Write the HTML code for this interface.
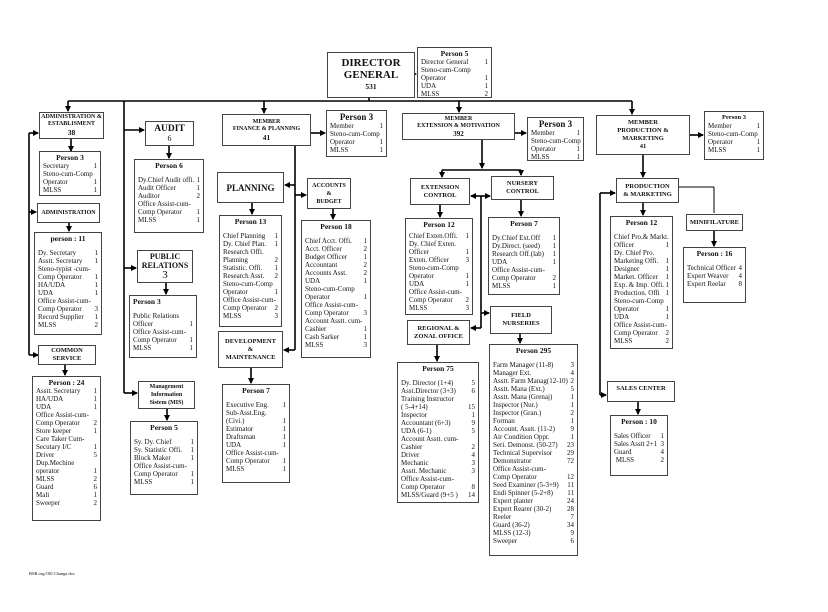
<!DOCTYPE html>
<html><head><meta charset="utf-8"><style>
body{margin:0;width:828px;height:612px;background:#fff;position:relative;overflow:hidden;font-family:"Liberation Serif",serif;color:#111}
.b{position:absolute;border:1.5px solid #444;box-sizing:border-box;background:#fff}
.h{text-align:center;font-weight:bold;font-size:7px;line-height:8px;display:flex;flex-direction:column;justify-content:center}
.t{font-size:7px;line-height:8px;padding:1px 3px}
.t .c{text-align:center;font-weight:bold;font-size:7.5px;line-height:9px}
.t p{margin:0;white-space:nowrap}
.t i{float:right;font-style:normal}
.t .s{height:6px}
svg{position:absolute;left:0;top:0}
</style></head><body>
<svg width="828" height="612">
<defs><marker id="a" markerWidth="6" markerHeight="6" refX="5" refY="3" orient="auto" markerUnits="userSpaceOnUse"><path d="M0,0L6,3L0,6z" fill="#000"/></marker></defs>
<g stroke="#000" stroke-width="1.6" fill="none">
<line x1="68" y1="101" x2="632" y2="101"/>
<line x1="369" y1="97" x2="369" y2="101"/>
<line x1="415" y1="74" x2="416" y2="74" marker-end="url(#a)"/>
<line x1="68" y1="101" x2="68" y2="111" marker-end="url(#a)"/>
<line x1="264" y1="101" x2="264" y2="113" marker-end="url(#a)"/>
<line x1="459" y1="101" x2="459" y2="112" marker-end="url(#a)"/>
<line x1="632" y1="101" x2="632" y2="114" marker-end="url(#a)"/>
<line x1="71" y1="139" x2="71" y2="151" marker-end="url(#a)"/>
<line x1="69" y1="223" x2="69" y2="231" marker-end="url(#a)"/>
<line x1="29" y1="133" x2="29" y2="355"/>
<line x1="29" y1="133" x2="38" y2="133" marker-end="url(#a)"/>
<line x1="29" y1="212" x2="36" y2="212" marker-end="url(#a)"/>
<line x1="29" y1="355" x2="38" y2="355" marker-end="url(#a)"/>
<line x1="65" y1="365" x2="65" y2="375" marker-end="url(#a)"/>
<line x1="124" y1="101" x2="124" y2="393"/>
<line x1="124" y1="130" x2="144" y2="130" marker-end="url(#a)"/>
<line x1="124" y1="268" x2="136" y2="268" marker-end="url(#a)"/>
<line x1="124" y1="393" x2="137" y2="393" marker-end="url(#a)"/>
<line x1="169" y1="146" x2="169" y2="158" marker-end="url(#a)"/>
<line x1="166" y1="283" x2="166" y2="294" marker-end="url(#a)"/>
<line x1="167" y1="409" x2="167" y2="420" marker-end="url(#a)"/>
<line x1="311" y1="133" x2="325" y2="133" marker-end="url(#a)"/>
<line x1="295" y1="146" x2="295" y2="350"/>
<line x1="295" y1="185" x2="285" y2="185" marker-end="url(#a)"/>
<line x1="295" y1="195" x2="306" y2="195" marker-end="url(#a)"/>
<line x1="295" y1="350" x2="284" y2="350" marker-end="url(#a)"/>
<line x1="252" y1="203" x2="252" y2="214" marker-end="url(#a)"/>
<line x1="333" y1="209" x2="333" y2="219" marker-end="url(#a)"/>
<line x1="251" y1="368" x2="251" y2="383" marker-end="url(#a)"/>
<line x1="515" y1="133" x2="526" y2="133" marker-end="url(#a)"/>
<line x1="482" y1="140" x2="482" y2="168" marker-end="url(#a)"/>
<line x1="442" y1="170" x2="521" y2="170"/>
<line x1="442" y1="170" x2="442" y2="177" marker-end="url(#a)"/>
<line x1="521" y1="170" x2="521" y2="175" marker-end="url(#a)"/>
<line x1="481" y1="196" x2="481" y2="328"/>
<line x1="481" y1="196" x2="471" y2="196" marker-end="url(#a)"/>
<line x1="481" y1="196" x2="490" y2="196" marker-end="url(#a)"/>
<line x1="481" y1="313" x2="489" y2="313" marker-end="url(#a)"/>
<line x1="481" y1="328" x2="471" y2="328" marker-end="url(#a)"/>
<line x1="440" y1="205" x2="440" y2="217" marker-end="url(#a)"/>
<line x1="521" y1="200" x2="521" y2="216" marker-end="url(#a)"/>
<line x1="520" y1="334" x2="520" y2="343" marker-end="url(#a)"/>
<line x1="437" y1="345" x2="437" y2="361" marker-end="url(#a)"/>
<line x1="690" y1="135" x2="703" y2="135" marker-end="url(#a)"/>
<line x1="643" y1="155" x2="643" y2="177" marker-end="url(#a)"/>
<line x1="643" y1="203" x2="643" y2="215" marker-end="url(#a)"/>
<line x1="679" y1="187" x2="714" y2="187" stroke-width="1"/>
<line x1="714" y1="187" x2="714" y2="213" stroke-width="1"/>
<line x1="714" y1="231" x2="714" y2="246" marker-end="url(#a)"/>
<line x1="600" y1="193" x2="600" y2="395"/>
<line x1="600" y1="193" x2="615" y2="193" marker-end="url(#a)"/>
<line x1="600" y1="395" x2="606" y2="395" marker-end="url(#a)"/>
<line x1="638" y1="402" x2="638" y2="414" marker-end="url(#a)"/>
</g></svg>

<div class="b h" style="left:327px;top:52px;width:88px;height:46px;font-size:11px;line-height:12px">DIRECTOR<br>GENERAL<span style="font-size:7.5px">531</span></div>
<div class="b t" style="left:417px;top:47px;width:75px;height:51px"><div class="c">Person 5</div><p>Director General<i>1</i></p><p>Steno-cum-Comp</p><p>Operator<i>1</i></p><p>UDA<i>1</i></p><p>MLSS<i>2</i></p></div>

<div class="b h" style="left:39px;top:112px;width:65px;height:27px;font-size:6px;line-height:7px">ADMINISTRATION &amp;<br>ESTABLISMENT<br><span style="font-size:7.5px;line-height:9px">38</span></div>
<div class="b t" style="left:39px;top:151px;width:62px;height:45px"><div class="c">Person 3</div><p>Secretary<i>1</i></p><p>Steno-cum-Comp</p><p>Operator<i>1</i></p><p>MLSS<i>1</i></p></div>
<div class="b h" style="left:37px;top:203px;width:63px;height:20px;font-size:6px">ADMINISTRATION</div>
<div class="b t" style="left:34px;top:232px;width:68px;height:103px"><div class="c">person : 11</div><div class="s"></div><p>Dy. Secretary<i>1</i></p><p>Asstt. Secretary<i>1</i></p><p>Steno-typist -cum-</p><p>Comp Operator<i>1</i></p><p>HA/UDA<i>1</i></p><p>UDA<i>1</i></p><p>Office Assist-cum-</p><p>Comp Operator<i>3</i></p><p>Record Supplier<i>1</i></p><p>MLSS<i>2</i></p></div>
<div class="b h" style="left:38px;top:345px;width:58px;height:20px;font-size:6.5px">COMMON<br>SERVICE</div>
<div class="b t" style="left:32px;top:376px;width:69px;height:145px"><div class="c">Person : 24</div><p>Asstt. Secretary<i>1</i></p><p>HA/UDA<i>1</i></p><p>UDA<i>1</i></p><p>Office Assist-cum-</p><p>Comp Operator<i>2</i></p><p>Store keeper<i>1</i></p><p>Care Taker Cum-</p><p>Secutary I/C<i>1</i></p><p>Driver<i>5</i></p><p>Dup.Mechine</p><p>operator<i>1</i></p><p>MLSS<i>2</i></p><p>Guard<i>6</i></p><p>Mali<i>1</i></p><p>Sweeper<i>2</i></p></div>

<div class="b h" style="left:145px;top:121px;width:49px;height:25px;font-size:9.5px;line-height:10px">AUDIT<span style="font-weight:normal;font-size:8px">6</span></div>
<div class="b t" style="left:134px;top:159px;width:70px;height:74px"><div class="c">Person 6</div><div class="s"></div><p>Dy.Chief Audit offi.<i>1</i></p><p>Audit Officer<i>1</i></p><p>Auditor<i>2</i></p><p>Office Assist-cum-</p><p>Comp Operator<i>1</i></p><p>MLSS<i>1</i></p></div>
<div class="b h" style="left:137px;top:250px;width:56px;height:33px;font-size:8px;line-height:9px">PUBLIC<br>RELATIONS<span style="font-weight:normal;font-size:11px;line-height:11px">3</span></div>
<div class="b t" style="left:129px;top:295px;width:68px;height:63px"><div class="c" style="text-align:left">Person 3</div><div class="s"></div><p>Public Relations</p><p>Officer<i>1</i></p><p>Office Assist-cum-</p><p>Comp Operator<i>1</i></p><p>MLSS<i>1</i></p></div>
<div class="b h" style="left:138px;top:381px;width:57px;height:28px;font-size:6px;line-height:8px">Management<br>Information<br>Sistem (MIS)</div>
<div class="b t" style="left:130px;top:421px;width:68px;height:74px"><div class="c">Person 5</div><div class="s"></div><p>Sy. Dy. Chief<i>1</i></p><p>Sy. Statistic Offi.<i>1</i></p><p>Block Maker<i>1</i></p><p>Office Assist-cum-</p><p>Comp Operator<i>1</i></p><p>MLSS<i>1</i></p></div>

<div class="b h" style="left:222px;top:114px;width:89px;height:32px;font-size:6px;line-height:7px">MEMBER<br>FINANCE &amp; PLANNING<br><span style="font-size:7.5px;line-height:9px">41</span></div>
<div class="b t" style="left:326px;top:110px;width:61px;height:47px"><div class="c" style="font-size:9px;line-height:10px">Person 3</div><p>Member<i>1</i></p><p>Steno-cum-Comp</p><p>Operator<i>1</i></p><p>MLSS<i>1</i></p></div>
<div class="b h" style="left:217px;top:172px;width:67px;height:31px;font-size:9px">PLANNING</div>
<div class="b h" style="left:307px;top:178px;width:44px;height:31px;font-size:6px">ACCOUNTS<br>&amp;<br>BUDGET</div>
<div class="b t" style="left:219px;top:215px;width:63px;height:112px"><div class="c">Person 13</div><div class="s"></div><p>Chief Planning<i>1</i></p><p>Dy. Chief Plan.<i>1</i></p><p>Research Offi.</p><p>Planning<i>2</i></p><p>Statistic. Offi.<i>1</i></p><p>Research Asst.<i>2</i></p><p>Steno-cum-Comp</p><p>Operator<i>1</i></p><p>Office Assist-cum-</p><p>Comp Operator<i>2</i></p><p>MLSS<i>3</i></p></div>
<div class="b t" style="left:301px;top:220px;width:70px;height:138px"><div class="c">Person 18</div><div class="s"></div><p>Chief Acct. Offi.<i>1</i></p><p>Acct. Officer<i>2</i></p><p>Budget Officer<i>1</i></p><p>Accountant<i>2</i></p><p>Accounts Asst.<i>2</i></p><p>UDA<i>1</i></p><p>Steno-cum-Comp</p><p>Operator<i>1</i></p><p>Office Assist-cum-</p><p>Comp Operator<i>3</i></p><p>Account Asstt. cum-</p><p>Cashier<i>1</i></p><p>Cash Sarker<i>1</i></p><p>MLSS<i>3</i></p></div>
<div class="b h" style="left:218px;top:331px;width:65px;height:37px;font-size:6.5px">DEVELOPMENT<br>&amp;<br>MAINTENANCE</div>
<div class="b t" style="left:222px;top:384px;width:68px;height:99px"><div class="c">Person 7</div><div class="s"></div><p>Executive Eng.<i>1</i></p><p>Sub-Asst.Eng.</p><p>(Civi.)<i>1</i></p><p>Estimator<i>1</i></p><p>Draftsman<i>1</i></p><p>UDA<i>1</i></p><p>Office Assist-cum-</p><p>Comp Operator<i>1</i></p><p>MLSS<i>1</i></p></div>

<div class="b h" style="left:402px;top:113px;width:113px;height:27px;font-size:6px;line-height:7px">MEMBER<br>EXTENSION &amp; MOTIVATION<br><span style="font-size:7px;line-height:8px">392</span></div>
<div class="b t" style="left:527px;top:117px;width:57px;height:44px"><div class="c" style="font-size:9px;line-height:10px">Person 3</div><p>Member<i>1</i></p><p>Steno-cum-Comp</p><p>Operator<i>1</i></p><p>MLSS<i>1</i></p></div>
<div class="b h" style="left:410px;top:178px;width:60px;height:27px;font-size:6.5px">EXTENSION<br>CONTROL</div>
<div class="b h" style="left:491px;top:176px;width:63px;height:24px;font-size:6.5px">NURSERY<br>CONTROL</div>
<div class="b t" style="left:405px;top:218px;width:68px;height:97px"><div class="c">Person 12</div><div class="s" style="height:3px"></div><p>Chief Exten.Offi.<i>1</i></p><p>Dy. Chief Exten.</p><p>Officer<i>1</i></p><p>Exten. Officer<i>3</i></p><p>Steno-cum-Comp</p><p>Operator<i>1</i></p><p>UDA<i>1</i></p><p>Office Assist-cum-</p><p>Comp Operator<i>2</i></p><p>MLSS<i>3</i></p></div>
<div class="b t" style="left:488px;top:217px;width:72px;height:78px"><div class="c">Person 7</div><div class="s"></div><p>Dy.Chief Ext.Off<i>1</i></p><p>Dy.Direct. (seed)<i>1</i></p><p>Research Off.(lab)<i>1</i></p><p>UDA<i>1</i></p><p>Office Assist-cum-</p><p>Comp Operator<i>2</i></p><p>MLSS<i>1</i></p></div>
<div class="b h" style="left:490px;top:306px;width:62px;height:28px;font-size:6.5px">FIELD<br>NURSERIES</div>
<div class="b h" style="left:407px;top:320px;width:63px;height:25px;font-size:6.5px">REGIONAL &amp;<br>ZONAL OFFICE</div>
<div class="b t" style="left:397px;top:362px;width:82px;height:141px"><div class="c">Person 75</div><div class="s"></div><p>Dy. Director (1+4)<i>5</i></p><p>Asst.Director (3+3)<i>6</i></p><p>Training Instructor</p><p>( 5-4+14)<i>15</i></p><p>Inspector<i>1</i></p><p>Accountant (6+3)<i>9</i></p><p>UDA (6-1)<i>5</i></p><p>Account Asstt. cum-</p><p>Cashier<i>2</i></p><p>Driver<i>4</i></p><p>Mechanic<i>3</i></p><p>Asstt. Mechanic<i>3</i></p><p>Office Assist-cum-</p><p>Comp Operator<i>8</i></p><p>MLSS/Guard (9+5 )<i>14</i></p></div>
<div class="b t" style="left:489px;top:344px;width:89px;height:212px"><div class="c">Person 295</div><div class="s"></div><p>Farm Manager (11-8)<i>3</i></p><p>Manager Ext.<i>4</i></p><p>Asstt. Farm Manag(12-10)<i>2</i></p><p>Asstt. Mana (Ext.)<i>5</i></p><p>Asstt. Mana (Grenaj)<i>1</i></p><p>Inspector (Nur.)<i>1</i></p><p>Inspector (Gran.)<i>2</i></p><p>Forman<i>1</i></p><p>Account. Asstt. (11-2)<i>9</i></p><p>Air Condition Oppr.<i>1</i></p><p>Seri. Demonst. (50-27)<i>23</i></p><p>Technical Supervisor<i>29</i></p><p>Demonstrator<i>72</i></p><p>Office Assist-cum-</p><p>Comp Operator<i>12</i></p><p>Seed Examiner (5-3+9)<i>11</i></p><p>Endi Spinner (5-2+8)<i>11</i></p><p>Expert planter<i>24</i></p><p>Expert Rearer (30-2)<i>28</i></p><p>Reeler<i>7</i></p><p>Guard (36-2)<i>34</i></p><p>MLSS (12-3)<i>9</i></p><p>Sweeper<i>6</i></p></div>

<div class="b h" style="left:596px;top:115px;width:94px;height:40px;font-size:6.5px;line-height:8px">MEMBER<br>PRODUCTION &amp;<br>MARKETING<br>41</div>
<div class="b t" style="left:704px;top:111px;width:60px;height:49px"><div class="c" style="font-size:6.5px">Person 3</div><p>Member<i>1</i></p><p>Steno-cum-Comp</p><p>Operator<i>1</i></p><p>MLSS<i>1</i></p></div>
<div class="b h" style="left:616px;top:178px;width:63px;height:25px;font-size:6.5px">PRODUCTION<br>&amp; MARKETING</div>
<div class="b h" style="left:686px;top:214px;width:57px;height:17px;font-size:6.5px">MINIFILATURE</div>
<div class="b t" style="left:683px;top:247px;width:63px;height:56px"><div class="c">Person : 16</div><div class="s"></div><p>Technical Officer<i>4</i></p><p>Expert Weaver<i>4</i></p><p>Expert Reelar<i>8</i></p></div>
<div class="b t" style="left:610px;top:216px;width:63px;height:133px"><div class="c">Person 12</div><div class="s"></div><p>Chief Pro.&amp; Markt.</p><p>Officer<i>1</i></p><p>Dy. Chief Pro.</p><p>Marketing Offi.<i>1</i></p><p>Designer<i>1</i></p><p>Market. Officer<i>1</i></p><p>Exp. &amp; Imp. Offi.<i>1</i></p><p>Production. Offi<i>1</i></p><p>Steno-cum-Comp</p><p>Operator<i>1</i></p><p>UDA<i>1</i></p><p>Office Assist-cum-</p><p>Comp Operator<i>2</i></p><p>MLSS<i>2</i></p></div>
<div class="b h" style="left:607px;top:381px;width:68px;height:21px;font-size:6.5px;justify-content:flex-start;padding-top:3px">SALES CENTER</div>
<div class="b t" style="left:610px;top:415px;width:58px;height:61px"><div class="c">Person : 10</div><div class="s"></div><p>Sales Officer<i>1</i></p><p>Sales Asstt 2+1<i>3</i></p><p>Guard<i>4</i></p><p>&nbsp;MLSS<i>2</i></p></div>

<div style="position:absolute;left:29px;top:571px;font-size:4.5px">BSR.org/100 Changa.doc</div>
</body></html>
